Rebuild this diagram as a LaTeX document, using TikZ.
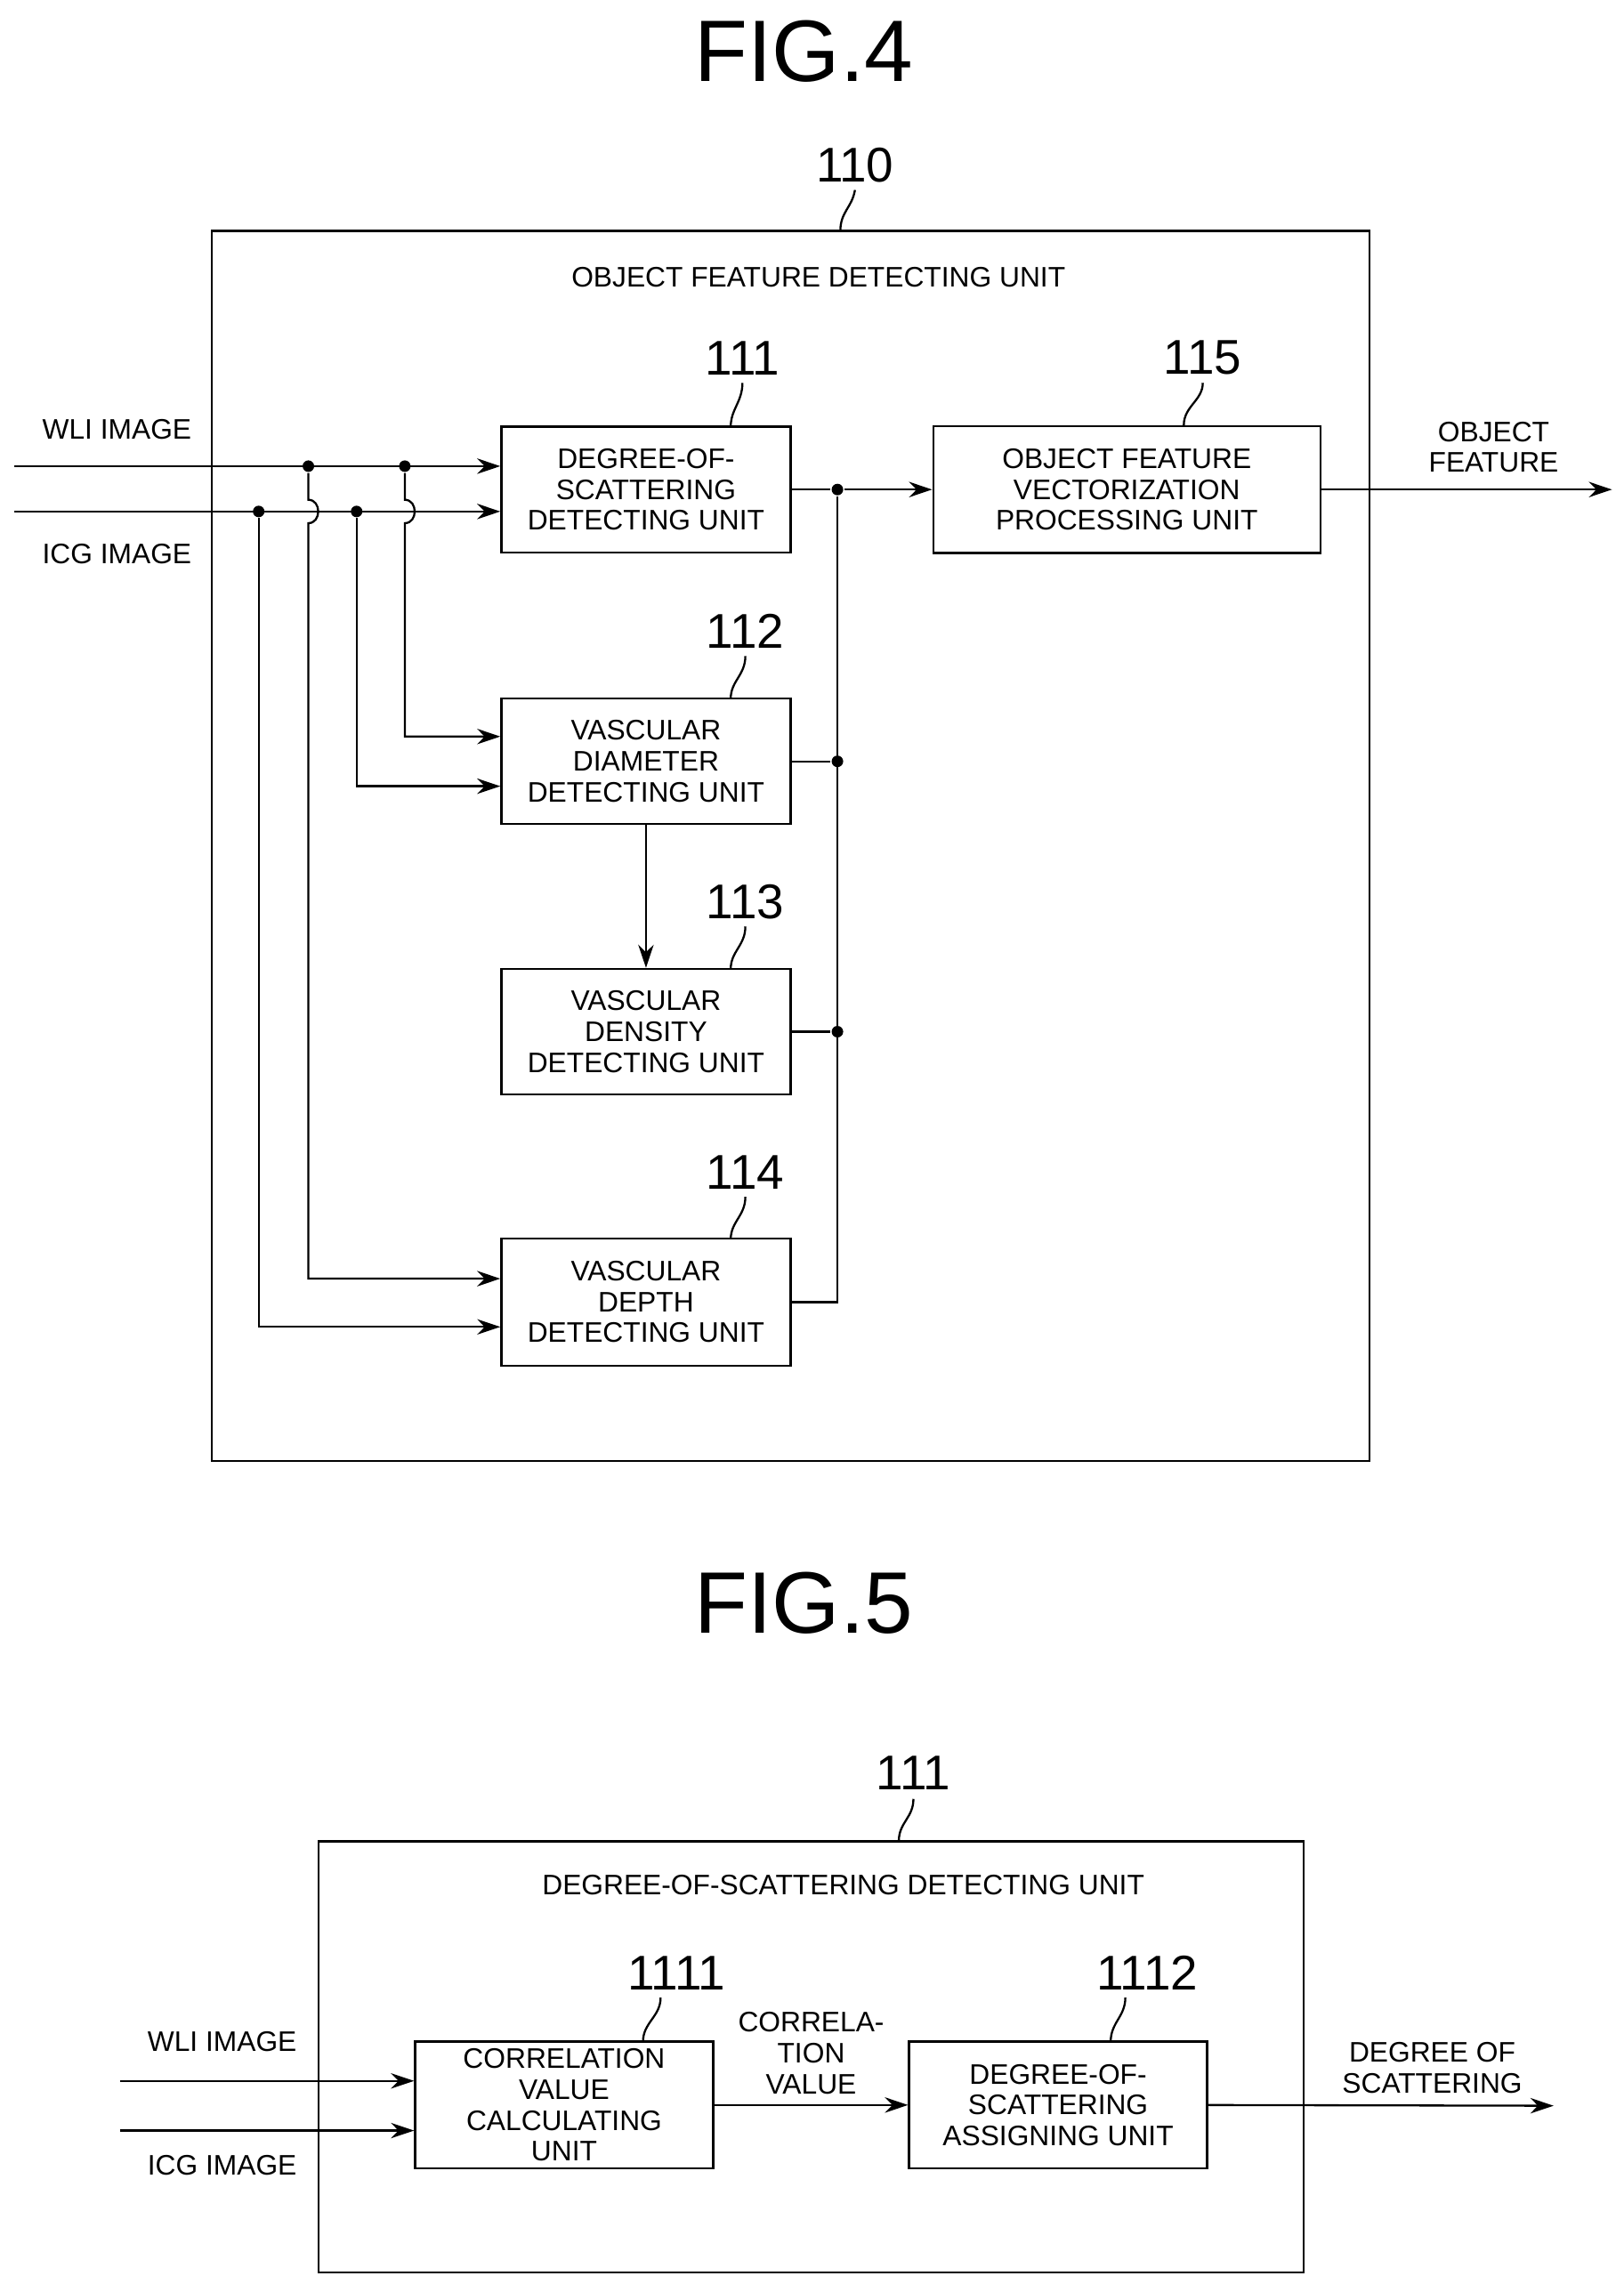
\documentclass[tikz,border=0pt]{standalone}
\usepackage{fontspec}
\setmainfont{Liberation Sans}
\usetikzlibrary{arrows.meta}
\begin{document}
\begin{tikzpicture}[x=0.02cm,y=-0.02cm,line width=0.8pt,
 box/.style={draw,rectangle,inner sep=0pt,align=center,font=\fontsize{11}{12}\selectfont},
 txt/.style={align=center,inner sep=0pt,font=\fontsize{11}{12}\selectfont},
 num/.style={inner sep=0pt,font=\fontsize{19}{20}\selectfont},
 fig/.style={inner sep=0pt,font=\fontsize{34}{36}\selectfont},
 arr/.style={-{Stealth[length=9pt,width=6pt]}},
 dot/.style={circle,fill,inner sep=0pt,minimum size=4.5pt}]
\useasboundingbox (0,0) rectangle (1111,1563);
% ---------- FIG 4
\node[fig] (f4) at (550,35) {FIG.4};
\node[draw,rectangle,inner sep=0pt,minimum width=15.84cm,minimum height=16.84cm] (u110) at (541,579) {};
\node[num] (n110) at (585,113) {110};
\draw (575,158) .. controls (575,145) and (583,142) .. (585,130);
\node[txt] (t110) at (560,190) {OBJECT FEATURE DETECTING UNIT};
\node[box,minimum width=3.96cm,minimum height=1.72cm] (b111) at (442,335) {DEGREE-OF-\\SCATTERING\\DETECTING UNIT};
\node[box,minimum width=5.3cm,minimum height=1.74cm] (b115) at (771,335) {OBJECT FEATURE\\VECTORIZATION\\PROCESSING UNIT};
\node[box,minimum width=3.96cm,minimum height=1.72cm] (b112) at (442,521) {VASCULAR\\DIAMETER\\DETECTING UNIT};
\node[box,minimum width=3.96cm,minimum height=1.72cm] (b113) at (442,706) {VASCULAR\\DENSITY\\DETECTING UNIT};
\node[box,minimum width=3.96cm,minimum height=1.74cm] (b114) at (442,891) {VASCULAR\\DEPTH\\DETECTING UNIT};
\node[num] (n111) at (508,245) {111};
\node[num] (n115) at (823,245) {115};
\node[num] (n112) at (510,432) {112};
\node[num] (n113) at (510,617) {113};
\node[num] (n114) at (510,802) {114};
\draw (500,292) .. controls (500,280) and (508,275) .. (508,262);
\draw (810,291) .. controls (810,278) and (823,274) .. (823,262);
\draw (500,478) .. controls (500,466) and (510,462) .. (510,449);
\draw (500,663) .. controls (500,651) and (510,647) .. (510,634);
\draw (500,848) .. controls (500,836) and (510,832) .. (510,819);
\node[txt] (lw) at (80,294) {WLI IMAGE};
\node[txt] (li) at (80,379) {ICG IMAGE};
\coordinate (wst) at (10,319);
\coordinate (ist) at (10,350);
\draw[arr] (wst) -- (b111.west |- wst);
\draw[arr] (ist) -- (b111.west |- ist);
\node[dot] (dw1) at (211,319) {};
\node[dot] (dw2) at (277,319) {};
\node[dot] (di1) at (177,350) {};
\node[dot] (di2) at (244,350) {};
\draw[arr] (dw2) -- (277,342) .. controls (286,342) and (286,358) .. (277,358) -- (277,504) -- (b112.west |- 0,504);
\draw[arr] (di2) -- (244,538) -- (b112.west |- 0,538);
\draw[arr] (dw1) -- (211,342) .. controls (220,342) and (220,358) .. (211,358) -- (211,875) -- (b114.west |- 0,875);
\draw[arr] (di1) -- (177,908) -- (b114.west |- 0,908);
\node[dot] (o1) at (573,335) {};
\node[dot] (o2) at (573,521) {};
\node[dot] (o3) at (573,706) {};
\draw (b111.east) -- (o1);
\draw[arr] (o1) -- (b115.west);
\draw (b112.east) -- (o2);
\draw (b113.east) -- (o3);
\draw (b114.east) -- (573,891) -- (o1);
\draw[arr] (b112.south) -- (b113.north);
\coordinate (oend) at (1103,335);
\draw[arr] (b115.east) -- (oend);
\node[txt] (lof) at (1022,306) {OBJECT\\FEATURE};
% ---------- FIG 5
\node[fig] (f5) at (550,1097) {FIG.5};
\node[draw,rectangle,inner sep=0pt,minimum width=13.48cm,minimum height=5.9cm] (u111) at (555,1407.5) {};
\node[num] (m111) at (625,1213) {111};
\draw (615,1260) .. controls (615,1247) and (625,1244) .. (625,1231);
\node[txt] (t111) at (577,1290) {DEGREE-OF-SCATTERING DETECTING UNIT};
\node[box,minimum width=4.08cm,minimum height=1.74cm] (c1) at (386,1440.5) {CORRELATION\\VALUE\\CALCULATING\\UNIT};
\node[box,minimum width=4.08cm,minimum height=1.74cm] (c2) at (724,1440.5) {DEGREE-OF-\\SCATTERING\\ASSIGNING UNIT};
\node[num] (m1111) at (463,1350) {1111};
\node[num] (m1112) at (785,1350) {1112};
\draw (440,1397) .. controls (440,1384) and (452,1380) .. (452,1367);
\draw (760,1397) .. controls (760,1384) and (770,1380) .. (770,1367);
\node[txt] (lw5) at (152,1397) {WLI IMAGE};
\node[txt] (li5) at (152,1482) {ICG IMAGE};
\coordinate (w5) at (82,1424);
\coordinate (i5) at (82,1458);
\draw[arr] (w5) -- (c1.west |- w5);
\draw[arr] (i5) -- (c1.west |- i5);
\draw[arr] (c1.east) -- (c2.west);
\node[txt] (lcv) at (555,1405) {CORRELA-\\TION\\VALUE};
\coordinate (e5) at (1063,1441);
\draw[arr] (c2.east) -- (e5);
\node[txt] (lds) at (980,1415) {DEGREE OF\\SCATTERING};
\end{tikzpicture}
\end{document}
